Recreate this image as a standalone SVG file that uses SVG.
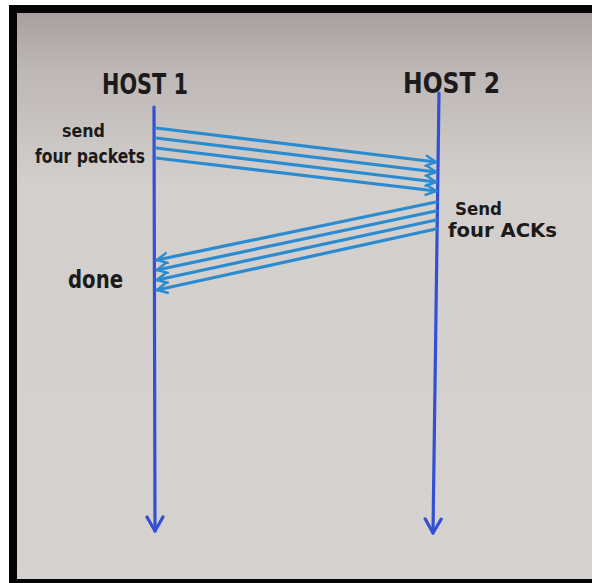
<svg xmlns="http://www.w3.org/2000/svg" width="592" height="583" viewBox="0 0 592 583">
<defs>
<linearGradient id="paper" x1="0" y1="0" x2="0" y2="1">
<stop offset="0" stop-color="#a8a09e"/>
<stop offset="0.1" stop-color="#bdb7b5"/>
<stop offset="0.3" stop-color="#d2cfcc"/>
<stop offset="1" stop-color="#d5d2d0"/>
</linearGradient>
<marker id="lifeHead" viewBox="0 0 20 20" refX="18" refY="10" markerWidth="20" markerHeight="20" markerUnits="userSpaceOnUse" orient="auto">
<path d="M4 2 L18 10 L4 18" fill="none" stroke="#3350d4" stroke-width="3.2" stroke-linecap="round" stroke-linejoin="round"/>
</marker>
<marker id="msgHead" viewBox="0 0 14 14" refX="13" refY="7" markerWidth="14" markerHeight="14" markerUnits="userSpaceOnUse" orient="auto">
<path d="M3 2 L13 7 L3 12" fill="none" stroke="#2b8bd0" stroke-width="2.4" stroke-linecap="round" stroke-linejoin="round"/>
</marker>
<style>
.life{stroke:#3350d4;stroke-width:3.2;fill:none;stroke-linecap:round}
.msg{stroke:#2b8bd0;stroke-width:3.2;fill:none;stroke-linecap:round}
.lbl{font-family:"DejaVu Sans",sans-serif;font-weight:bold;fill:#1c1a1a}
.host{font-family:"DejaVu Sans",sans-serif;font-weight:bold;fill:#1c1a1a;font-size:28px}
</style>
</defs>
<rect x="0" y="0" width="592" height="583" fill="#ffffff"/>
<rect x="9" y="5" width="583" height="8" fill="#050505"/>
<rect x="9" y="5" width="8" height="578" fill="#050505"/>
<rect x="9" y="579" width="583" height="4" fill="#050505"/>
<rect x="17" y="13" width="575" height="566" fill="url(#paper)"/>
<g id="host1">
<text class="host" x="102" y="94" textLength="86" lengthAdjust="spacingAndGlyphs">HOST 1</text>
<line class="life" x1="154" y1="107" x2="155" y2="531" marker-end="url(#lifeHead)"/>
<text class="lbl" x="62" y="137" font-size="18" textLength="43" lengthAdjust="spacingAndGlyphs">send</text>
<text class="lbl" x="35" y="163" font-size="19" textLength="110" lengthAdjust="spacingAndGlyphs">four packets</text>
<text class="lbl" x="68" y="288" font-size="24" textLength="55" lengthAdjust="spacingAndGlyphs">done</text>
</g>
<g id="host2">
<text class="host" x="403" y="93" textLength="97" lengthAdjust="spacingAndGlyphs">HOST 2</text>
<line class="life" x1="439" y1="93" x2="433" y2="533" marker-end="url(#lifeHead)"/>
<text class="lbl" x="455" y="215" font-size="18" textLength="47" lengthAdjust="spacingAndGlyphs">Send</text>
<text class="lbl" x="448" y="237" font-size="19" textLength="109" lengthAdjust="spacingAndGlyphs">four ACKs</text>
</g>
<g id="connectors">
<line class="msg" x1="156" y1="128" x2="436" y2="162" marker-end="url(#msgHead)"/>
<line class="msg" x1="156" y1="138" x2="436" y2="172" marker-end="url(#msgHead)"/>
<line class="msg" x1="156" y1="148" x2="436" y2="182" marker-end="url(#msgHead)"/>
<line class="msg" x1="156" y1="158" x2="436" y2="191" marker-end="url(#msgHead)"/>
<line class="msg" x1="436" y1="202" x2="157" y2="260" marker-end="url(#msgHead)"/>
<line class="msg" x1="436" y1="211" x2="157" y2="270" marker-end="url(#msgHead)"/>
<line class="msg" x1="436" y1="220" x2="157" y2="280" marker-end="url(#msgHead)"/>
<line class="msg" x1="436" y1="229" x2="157" y2="290" marker-end="url(#msgHead)"/>
</g>
</svg>
